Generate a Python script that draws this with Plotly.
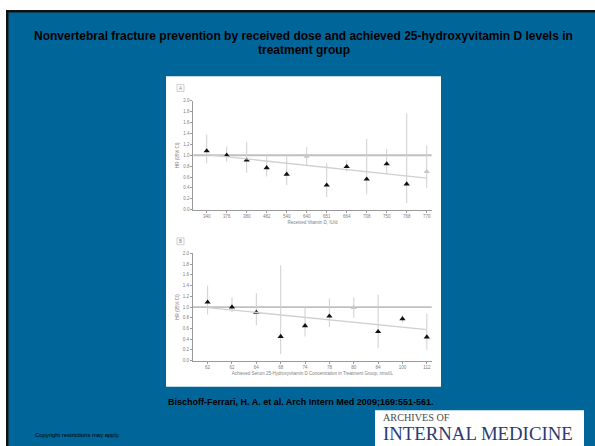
import plotly.graph_objects as go

W, H = 595, 446

# ---------------- data ----------------
dose_labels = ["340", "376", "380", "482", "540", "640", "651", "664", "708", "750", "768", "770"]
dose_hr     = [1.08, 1.00, 0.91, 0.77, 0.65, 0.98, 0.45, 0.79, 0.56, 0.84, 0.47, 0.70]
dose_lo     = [0.85, 0.88, 0.68, 0.61, 0.45, 0.82, 0.23, 0.70, 0.28, 0.67, 0.12, 0.40]
dose_hi     = [1.38, 1.16, 1.24, 1.00, 1.00, 1.15, 0.86, 0.91, 1.30, 1.12, 1.77, 1.18]
dose_grey   = [False, False, False, False, False, True, False, False, False, False, False, True]
dose_fit    = [1.01, 0.58]   # fitted line at first and last category

lvl_labels = ["62", "62", "64", "68", "74", "78", "80", "84", "100", "112"]
lvl_hr     = [1.09, 1.00, 0.90, 0.45, 0.65, 0.83, 0.99, 0.54, 0.78, 0.44]
lvl_lo     = [0.86, 0.90, 0.66, 0.12, 0.45, 0.63, 0.80, 0.23, 0.71, 0.20]
lvl_hi     = [1.40, 1.18, 1.26, 1.78, 1.00, 1.16, 1.18, 1.23, 0.84, 0.88]
lvl_grey   = [False, False, False, False, False, False, True, False, False, False]
lvl_fit    = [0.99, 0.58]

y_ticks = [0.0, 0.2, 0.4, 0.6, 0.8, 1.0, 1.2, 1.4, 1.6, 1.8, 2.0]

BLUE = "#006699"
AX = "#9a9a9a"
TXT = "#808080"
CI = "#cfcfcf"


def px(x):
    return x / W


def py(y):
    return 1 - y / H


fig = go.Figure()


def add_panel(xa, ya, labels, hr, lo, hi, grey, fit):
    idx = list(range(len(labels)))
    fig.add_trace(go.Scatter(
        x=idx, y=hr, mode="markers", xaxis=xa, yaxis=ya, showlegend=False,
        marker=dict(symbol="triangle-up", size=5.5,
                    color=["#c8c8c8" if g else "#111111" for g in grey]),
        error_y=dict(type="data", symmetric=False,
                     array=[h - v for h, v in zip(hi, hr)],
                     arrayminus=[v - l for v, l in zip(hr, lo)],
                     color=CI, thickness=1, width=0),
    ))
    fig.add_trace(go.Scatter(
        x=[idx[0], idx[-1]], y=fit, mode="lines", xaxis=xa, yaxis=ya,
        showlegend=False, line=dict(color="#d0d0d0", width=1.3),
    ))


add_panel("x", "y", dose_labels, dose_hr, dose_lo, dose_hi, dose_grey, dose_fit)
add_panel("x2", "y2", lvl_labels, lvl_hr, lvl_lo, lvl_hi, lvl_grey, lvl_fit)

tickfont = dict(family="Liberation Sans, Arial", size=4.5, color=TXT)
common_x = dict(showgrid=False, zeroline=False, showline=True, linecolor=AX,
                linewidth=1, ticks="outside", ticklen=2, tickcolor=AX,
                tickfont=tickfont, tickmode="array", fixedrange=True)
common_y = dict(showgrid=False, zeroline=False, showline=True, linecolor=AX,
                linewidth=1, ticks="outside", ticklen=2, tickcolor=AX,
                tickfont=tickfont, tickmode="array", tickvals=y_ticks,
                ticktext=[f"{t:.1f}" for t in y_ticks], range=[0, 2.0],
                title=dict(text="HR (95% CI)", font=tickfont, standoff=3),
                fixedrange=True)

fig.update_layout(
    width=W, height=H, autosize=False,
    margin=dict(l=0, r=0, t=0, b=0),
    paper_bgcolor="white", plot_bgcolor="white",
    xaxis=dict(common_x, domain=[px(193.3), px(431.7)], anchor="y",
               range=[-0.67, 11.25], tickvals=list(range(len(dose_labels))),
               ticktext=dose_labels,
               title=dict(text="Received Vitamin D, IU/d", font=tickfont, standoff=2)),
    yaxis=dict(common_y, domain=[py(210), py(100)], anchor="x"),
    xaxis2=dict(common_x, domain=[px(193.0), px(431.7)], anchor="y2",
                range=[-0.60, 9.2], tickvals=list(range(len(lvl_labels))),
                ticktext=lvl_labels,
                title=dict(text="Achieved Serum 25-Hydroxyvitamin D Concentration in Treatment Group, nmol/L",
                           font=tickfont, standoff=2)),
    yaxis2=dict(common_y, domain=[py(362.7), py(254.3)], anchor="x2"),
)

shapes = [
    # black frame line + blue slide background
    dict(type="rect", xref="paper", yref="paper", x0=px(6), x1=1.01, y0=-0.01, y1=py(8),
         fillcolor="#111111", line=dict(width=0), layer="below"),
    dict(type="rect", xref="paper", yref="paper", x0=px(8.5), x1=1.01, y0=-0.01, y1=py(10.5),
         fillcolor=BLUE, line=dict(width=0), layer="below"),
    # white figure inset
    dict(type="rect", xref="paper", yref="paper", x0=px(166), x1=px(441), y0=py(389), y1=py(75),
         fillcolor="white", line=dict(width=0), layer="below"),
    # logo box
    dict(type="rect", xref="paper", yref="paper", x0=px(375), x1=px(584), y0=-0.01, y1=py(413),
         fillcolor="white", line=dict(width=0), layer="below"),
    # reference lines at HR = 1.0
    dict(type="line", xref="x domain", yref="y", x0=0, x1=1, y0=1.0, y1=1.0,
         line=dict(color="#c0c0c0", width=1.8), layer="below"),
    dict(type="line", xref="x2 domain", yref="y2", x0=0, x1=1, y0=1.0, y1=1.0,
         line=dict(color="#c0c0c0", width=1.8), layer="below"),
    # panel letter boxes
    dict(type="rect", xref="paper", yref="paper", x0=px(177), x1=px(184), y0=py(90.5), y1=py(83.5),
         fillcolor="white", line=dict(color="#b0b0b0", width=0.6)),
    dict(type="rect", xref="paper", yref="paper", x0=px(177), x1=px(184), y0=py(245.5), y1=py(238.5),
         fillcolor="white", line=dict(color="#b0b0b0", width=0.6)),
]
fig.update_layout(shapes=shapes)

title_font = dict(family="Liberation Sans, Arial", size=12, color="black")
ann = [
    dict(text="<b>Nonvertebral fracture prevention by received dose and achieved 25-hydroxyvitamin D levels in</b>",
         x=px(303.5), y=py(34), font=title_font),
    dict(text="<b>treatment group</b>", x=px(303.5), y=py(48.5), font=title_font),
    dict(text="A", x=px(180.5), y=py(87), font=dict(family="Liberation Sans, Arial", size=4.5, color=TXT)),
    dict(text="B", x=px(180.5), y=py(242), font=dict(family="Liberation Sans, Arial", size=4.5, color=TXT)),
    dict(text="<b>Bischoff-Ferrari, H. A. et al. Arch Intern Med 2009;169:551-561.</b>",
         x=px(166), y=py(404.5), xanchor="left",
         font=dict(family="Liberation Sans, Arial", size=9, color="black")),
    dict(text="Copyright restrictions may apply.", x=px(33), y=py(437.5), xanchor="left",
         font=dict(family="Liberation Sans, Arial", size=5.9, color="black")),
    dict(text="ARCHIVES OF", x=px(381), y=py(420), xanchor="left",
         font=dict(family="Liberation Serif, Times New Roman", size=10.2, color="#4a4a4a")),
    dict(text="INTERNAL MEDICINE", x=px(381), y=py(436.5), xanchor="left",
         font=dict(family="Liberation Serif, Times New Roman", size=18.8, color="#2b3a70")),
]
for a in ann:
    a.setdefault("xanchor", "center")
    a.update(xref="paper", yref="paper", yanchor="middle", showarrow=False)
fig.update_layout(annotations=ann)

fig.write_html("out.html", config={"displayModeBar": False},
               post_script="document.body.style.margin='0';document.body.style.overflow='hidden';")
